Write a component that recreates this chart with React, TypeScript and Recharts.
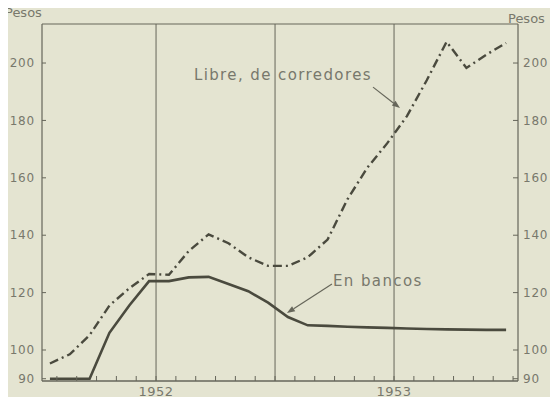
import React from 'react';
import { LineChart, Line, XAxis, YAxis, ReferenceLine } from 'recharts';

// meses, julio 1951 a junio 1953
const meses = [
	'Jul 51', 'Ago 51', 'Sep 51', 'Oct 51', 'Nov 51', 'Dic 51',
	'Ene 52', 'Feb 52', 'Mar 52', 'Abr 52', 'May 52', 'Jun 52',
	'Jul 52', 'Ago 52', 'Sep 52', 'Oct 52', 'Nov 52', 'Dic 52',
	'Ene 53', 'Feb 53', 'Mar 53', 'Abr 53', 'May 53', 'Jun 53',
];

const enBancos = [
	90, 90, 90, 106, 115.5, 124,
	124, 125.3, 125.5, 123, 120.5, 116.5,
	111.5, 108.6, 108.4, 108.1, 107.9, 107.7,
	107.5, 107.3, 107.2, 107.1, 107, 107,
];

const libre = [
	95.3, 98.5, 105.2, 115.5, 121.5, 126.5,
	126.2, 134.5, 140.3, 137.2, 132.3, 129.3,
	129.3, 132.3, 138.5, 152.5, 163.5, 172,
	181.5, 194, 207.4, 198.3, 202.9, 207,
];

const yearLabels: Record<number, string> = { 6: '1952', 18: '1953' };
const yearLines = [6, 12, 18];
const pesoTicks = [90, 100, 120, 140, 160, 180, 200];
const monthTicks = Array.from({ length: 24 }, (_, i) => i + 1);

const X_MIN = 0.25;
const X_MAX = 24.25;
const Y_MIN = 89.2;
const Y_MAX = 213.6;

const data = meses.map((m, i) => ({ mes: m, t: i + 0.65, bancos: enBancos[i], libre: libre[i] }));

const ink = '#4a4a3e';
const grid = '#66665a';
const txt = '#78786c';
const font = '"DejaVu Sans", sans-serif';

const arrowShape = (label: string, where: 'before' | 'after') => (props: any) =>
{
	const { x1, y1, x2, y2 } = props;
	const a = Math.atan2(y2 - y1, x2 - x1);
	const L = 8, W = 3;
	const bx = x2 - L * Math.cos(a), by = y2 - L * Math.sin(a);
	const p = [
		`${ x2 },${ y2 }`,
		`${ bx + W * Math.sin(a) },${ by - W * Math.cos(a) }`,
		`${ bx - W * Math.sin(a) },${ by + W * Math.cos(a) }`,
	].join(' ');
	const t = { fontSize: 15, fill: txt, fontFamily: font, letterSpacing: 1.4 };
	return (
		<g>
			<line x1={ x1 } y1={ y1 } x2={ bx } y2={ by } stroke={ grid } strokeWidth={ 1.2 } />
			<polygon points={ p } fill={ grid } />
			{ where === 'before'
				? <text x={ x1 - 1 } y={ y1 - 7 } textAnchor="end" { ...t }>{ label }</text>
				: <text x={ x1 + 1 } y={ y1 + 2 } textAnchor="start" { ...t }>{ label }</text> }
		</g>
	);
};

export default function App()
{
	return (
		<div style={ { position: 'relative', margin: -8, width: 558, height: 405, background: '#e4e4d1', overflow: 'hidden' } }>
			<div style={ { position: 'absolute', left: 5, top: 5, fontSize: 13, color: txt, fontFamily: font } }>Pesos</div>
			<div style={ { position: 'absolute', left: 508, top: 11, fontSize: 13, color: txt, fontFamily: font } }>Pesos</div>
			<LineChart
				width={ 558 }
				height={ 405 }
				data={ data }
				margin={ { top: 24, right: 0, left: 0, bottom: 0 } }
			>
				<XAxis
					dataKey="t"
					type="number"
					domain={ [X_MIN, X_MAX] }
					allowDataOverflow
					ticks={ monthTicks }
					interval={ 0 }
					height={ 24 }
					tickSize={ -5 }
					tickMargin={ 11 }
					tickFormatter={ (v: number) => yearLabels[v] || '' }
					axisLine={ { stroke: grid, strokeWidth: 1.5 } }
					tickLine={ { stroke: grid } }
					tick={ { fill: txt, fontSize: 13, fontFamily: font, letterSpacing: 0.5 } }
				/>
				<YAxis
					yAxisId="left"
					orientation="left"
					width={ 42 }
					domain={ [Y_MIN, Y_MAX] }
					allowDataOverflow
					ticks={ pesoTicks }
					interval={ 0 }
					tickSize={ -4 }
					tickMargin={ 11 }
					axisLine={ { stroke: grid, strokeWidth: 1.2 } }
					tickLine={ { stroke: grid } }
					tick={ { fill: txt, fontSize: 12, fontFamily: font, letterSpacing: 0.8 } }
				/>
				<YAxis
					yAxisId="right"
					orientation="right"
					width={ 40 }
					domain={ [Y_MIN, Y_MAX] }
					allowDataOverflow
					ticks={ pesoTicks }
					interval={ 0 }
					tickSize={ -5 }
					tickMargin={ 10 }
					axisLine={ { stroke: grid, strokeWidth: 1.2 } }
					tickLine={ { stroke: grid } }
					tick={ { fill: txt, fontSize: 12, fontFamily: font, letterSpacing: 0.8 } }
				/>
				{ yearLines.map((x) => (
					<ReferenceLine key={ x } yAxisId="left" x={ x } stroke={ grid } strokeWidth={ 1 } />
				)) }
				<ReferenceLine yAxisId="left" y={ Y_MAX } stroke={ grid } strokeWidth={ 1.2 } />
				<Line
					yAxisId="left"
					type="linear"
					dataKey="libre"
					stroke={ ink }
					strokeWidth={ 2.4 }
					strokeDasharray="9 4 2 4"
					dot={ false }
					isAnimationActive={ false }
				/>
				<Line
					yAxisId="left"
					type="linear"
					dataKey="bancos"
					stroke={ ink }
					strokeWidth={ 2.6 }
					dot={ false }
					isAnimationActive={ false }
				/>
				<ReferenceLine
					yAxisId="left"
					segment={ [{ x: 16.94, y: 191.6 }, { x: 18.3, y: 184.3 }] }
					shape={ arrowShape('Libre, de corredores', 'before') }
				/>
				<ReferenceLine
					yAxisId="left"
					segment={ [{ x: 14.87, y: 123 }, { x: 12.6, y: 112.9 }] }
					shape={ arrowShape('En bancos', 'after') }
				/>
			</LineChart>
		</div>
	);
}
